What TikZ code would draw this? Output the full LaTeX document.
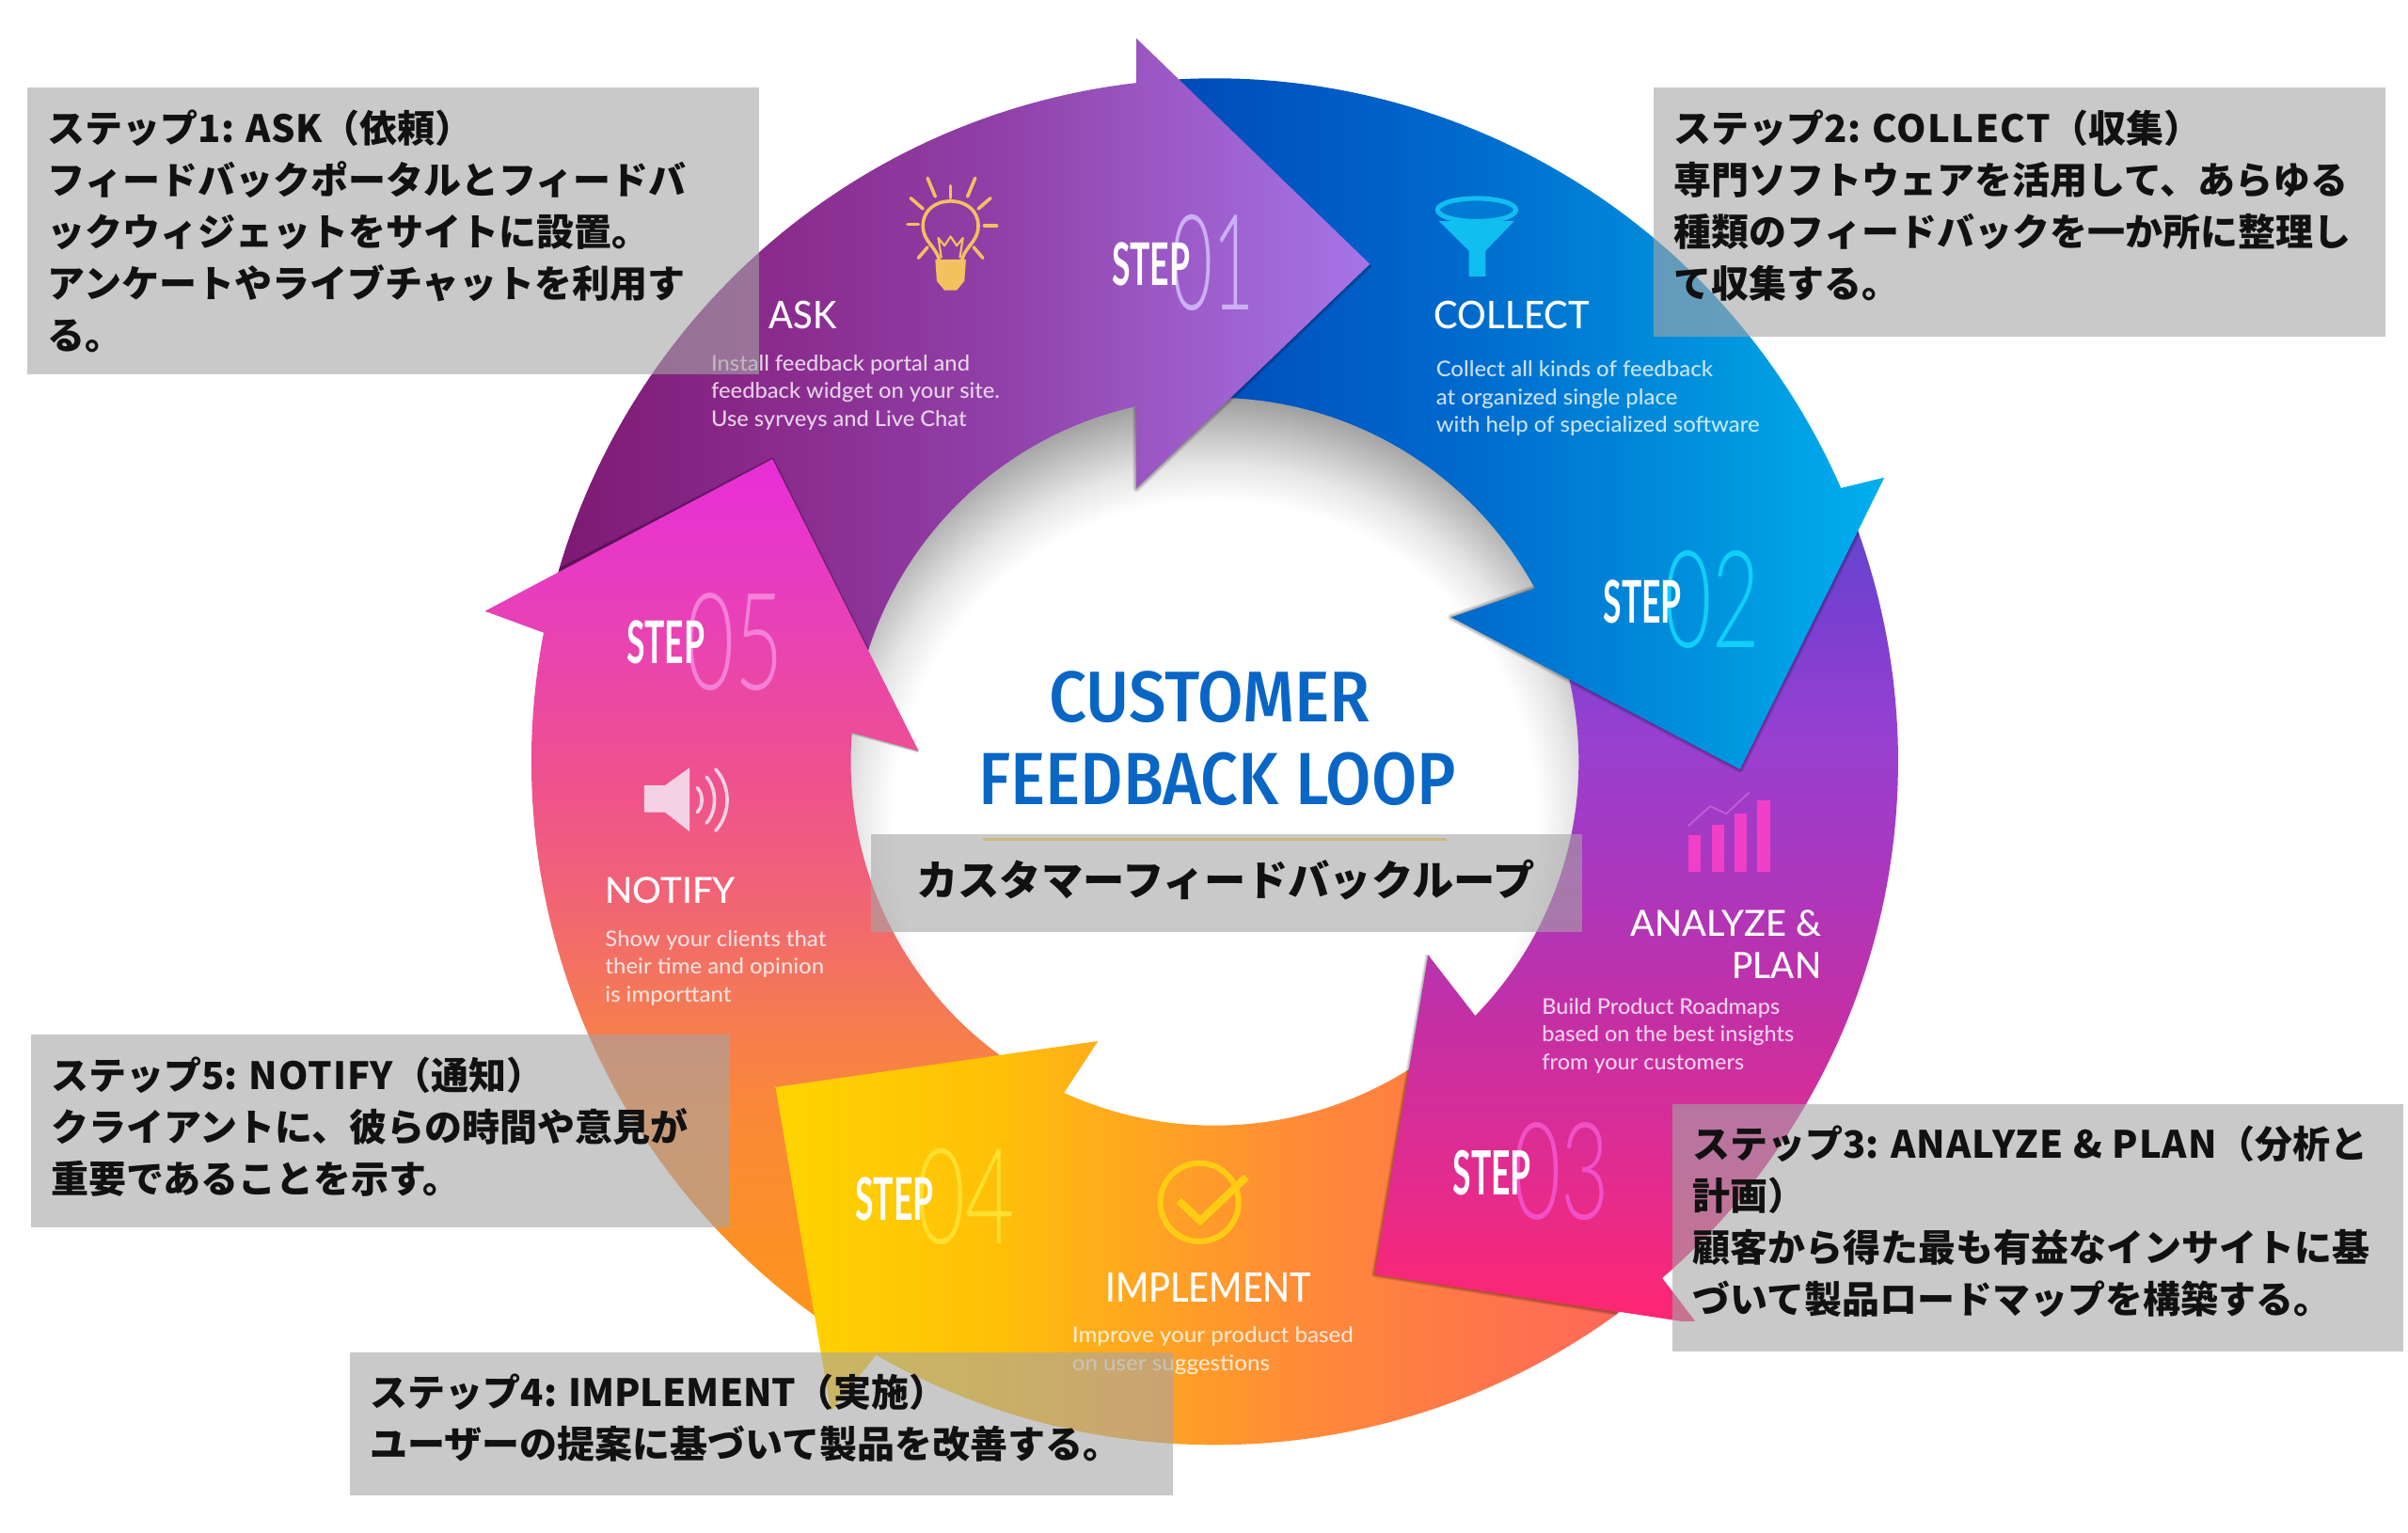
\documentclass[tikz,border=0pt]{standalone}
\usepackage{fontspec}
\usepackage{graphicx}
\newfontfamily\cjk{Noto Sans CJK JP}
\newfontfamily\lato{Lato}
\newfontfamily\latomed[UprightFont=* Medium]{Lato}
\newfontfamily\thindigits[UprightFont=* Light]{Lato}
\newfontfamily\firaf[UprightFont=* Medium]{Fira Sans}
\newlength\PX
\setlength\PX{1.632653pt}
% a Latin run inside a caption, opened up by a given letter space
\newcommand\spaced[2]{{\addfontfeature{LetterSpace=#1}#2}}

\definecolor{aA}{HTML}{7C1870}\definecolor{aB}{HTML}{8A2A8C}\definecolor{aC}{HTML}{9040A8}
\definecolor{aD}{HTML}{9A55C0}\definecolor{aE}{HTML}{A676EA}
\definecolor{bA}{HTML}{0048B8}\definecolor{bB}{HTML}{0068CC}\definecolor{bC}{HTML}{0098E0}\definecolor{bD}{HTML}{00B0F0}
\definecolor{cA}{HTML}{FF2672}\definecolor{cB}{HTML}{E02C90}\definecolor{cC}{HTML}{C030A8}
\definecolor{cD}{HTML}{A838C0}\definecolor{cE}{HTML}{9840D0}\definecolor{cF}{HTML}{7A3FD0}\definecolor{cG}{HTML}{5A4ACC}
\definecolor{dA}{HTML}{FFD400}\definecolor{dB}{HTML}{FFC008}\definecolor{dC}{HTML}{FFAC1C}
\definecolor{dD}{HTML}{FF8A38}\definecolor{dE}{HTML}{FF7050}\definecolor{dF}{HTML}{FF6060}
\definecolor{eA}{HTML}{FF9A10}\definecolor{eB}{HTML}{FA8838}\definecolor{eC}{HTML}{F47858}
\definecolor{eD}{HTML}{F0607A}\definecolor{eE}{HTML}{EE5090}\definecolor{eF}{HTML}{E840B8}\definecolor{eG}{HTML}{E82CDC}
\definecolor{titleblue}{HTML}{0A66C4}
\definecolor{rulegold}{HTML}{CDB77A}
\definecolor{bulbgold}{HTML}{F4C060}
\definecolor{funnelcyan}{HTML}{10BEF0}
\definecolor{checkgold}{HTML}{FFCC14}
\definecolor{barpink}{HTML}{F040C8}
\definecolor{linepink}{HTML}{C860D8}
\definecolor{speakerpale}{HTML}{F4D2E6}
\definecolor{dOne}{HTML}{CCB0F4}
\definecolor{dTwo}{HTML}{10D0F8}
\definecolor{dThree}{HTML}{F050C8}
\definecolor{dFour}{HTML}{FFDF30}
\definecolor{dFive}{HTML}{F480D8}
\definecolor{boxgrey}{HTML}{A5A5A5}
\definecolor{boxink}{HTML}{111111}

% the fill box of a shaded path maps to the middle 25bp..75bp of a shading
\pgfdeclarehorizontalshading{ringone}{100bp}{color(0bp)=(aA); color(25bp)=(aA); color(38.65bp)=(aB); color(52.25bp)=(aC); color(60.45bp)=(aD); color(75bp)=(aE); color(100bp)=(aE)}
\pgfdeclarehorizontalshading{ringtwo}{100bp}{color(0bp)=(bA); color(25bp)=(bA); color(45.3bp)=(bB); color(64.9bp)=(bC); color(75bp)=(bD); color(100bp)=(bD)}
\pgfdeclareverticalshading{ringthree}{100bp}{color(0bp)=(cA); color(25bp)=(cA); color(34.25bp)=(cB); color(44.5bp)=(cC); color(52.75bp)=(cD); color(60bp)=(cE); color(67.5bp)=(cF); color(75bp)=(cG); color(100bp)=(cG)}
\pgfdeclarehorizontalshading{ringfour}{100bp}{color(0bp)=(dA); color(25bp)=(dA); color(37.3bp)=(dB); color(43bp)=(dC); color(53.7bp)=(dD); color(66bp)=(dE); color(75bp)=(dF); color(100bp)=(dF)}
\pgfdeclareverticalshading{ringfive}{100bp}{color(0bp)=(eA); color(25bp)=(eA); color(40.85bp)=(eB); color(46.45bp)=(eC); color(52.8bp)=(eD); color(58.35bp)=(eE); color(66.25bp)=(eF); color(75bp)=(eG); color(100bp)=(eG)}
\pgfdeclareradialshading{holeglow}{\pgfpoint{0bp}{0bp}}{color(0bp)=(white); color(17.5bp)=(white); color(19.5bp)=(black!10); color(23.1bp)=(black!38); color(25bp)=(black!42); color(50bp)=(black!42)}

% ring arcs; screen angles run clockwise because y points down
\newcommand\outerarc[2]{-- plot[domain=#1:#2,samples=70] ({791+445*cos(\x)},{496+445*sin(\x)})}
\newcommand\innerarc[2]{-- plot[domain=#1:#2,samples=50] ({791+237*cos(\x)},{496+237*sin(\x)})}
% one arrow: a shaded rectangle seen through the arrow outline
\newcommand\gradarrow[3]{\begin{scope}\clip #3 -- cycle;\shade[shading=#1] #2;\end{scope}}
% a soft edge built from stacked translucent strokes
\newcommand\softedge[2]{\foreach \k in {1,...,10}{\draw[line width={\k*#1*0.16327pt},black,opacity=.035,line join=round] #2;}}
% a label fitted to a given width and cap height, set on its baseline
\newcommand\fitlabel[7]{\node[anchor=base west,inner sep=0pt,outer sep=0pt,#6] (#1) at (#2,#3) {\resizebox{#4\PX}{#5\PX}{#7}};}

\tikzset{
  x=1.632653pt, y=-1.632653pt,
  greybox/.style={fill=boxgrey,opacity=.6},
  boxtext/.style={anchor=north west,inner sep=0pt,align=left,text=boxink,font=\cjk\bfseries\fontsize{40}{55}\selectfont},
  para/.style={anchor=north west,inner sep=0pt,align=left,text=white,text opacity=.78,transform shape,font=\latomed\fontsize{23}{29.4}\selectfont},
  ray/.style={draw=bulbgold,line width=3.6pt,line cap=round},
}

\begin{document}
\begin{tikzpicture}
\useasboundingbox (0,0) rectangle (1568,998.37);
\fill[white] (0,0) rectangle (1568,998.37);

% the centre opening with its soft shadow from the ring above it
\begin{scope}
  \clip (791,496) circle (238);
  \shade[shading=holeglow] (791,536) circle (300);
\end{scope}

\begin{scope}
  \clip (791,496) circle (445);
  \softedge{3}{(555,477) -- (598,489)}
\end{scope}

% arrow five: notify
\gradarrow{ringfive}{(300,290) rectangle (700,920)}{(555,873) \outerarc{122}{190.9} -- (316,398) -- (503,299) -- (598,489) -- (555,477) \innerarc{184.6}{120}}

% arrow four: implement
\gradarrow{ringfour}{(500,670) rectangle (1110,950)}{(1059,851) \outerarc{53}{119.7} -- (541,919) -- (505,708) -- (715,678) -- (692,713) \innerarc{114.5}{50}}

\begin{scope}
  \clip (791,496) circle (445);
  \softedge{4}{(930,622) -- (895,830) -- (1053,855)}
\end{scope}

% arrow three: analyze and plan
\gradarrow{ringthree}{(880,320) rectangle (1240,860)}{(1201,322) \outerarc{337}{409.1} -- (1105,862) -- (895,830) -- (930,622) -- (961,662) \innerarc{44.3}{-20}}

\begin{scope}
  \clip (791,496) circle (445);
  \softedge{5}{(1000,383) -- (945,402) -- (1133,501) -- (1227,311)}
\end{scope}

% arrow two: collect
\gradarrow{ringtwo}{(750,40) rectangle (1230,510)}{(768,52) \outerarc{267}{336.4} -- (1227,311) -- (1133,501) -- (945,402) -- (1000,383) \innerarc{331.6}{262}}

\begin{scope}
  \clip (791,496) circle (445);
  \softedge{5}{(740,265) -- (740,318) -- (892,172)}
\end{scope}

% arrow one: ask
\gradarrow{ringone}{(350,20) rectangle (900,460)}{(357,396) \outerarc{193}{263.4} -- (740,25) -- (892,172) -- (740,318) -- (740,265) \innerarc{257.6}{190}}

\begin{scope}
  \clip (357,396) \outerarc{193}{263.4} -- (740,25) -- (892,172) -- (740,318) -- (740,265) \innerarc{257.6}{190} -- cycle;
  \softedge{2.5}{(364,371) -- (503,299) -- (598,489)}
\end{scope}

% the head of arrow five lies over the tail of arrow one
\gradarrow{ringfive}{(300,290) rectangle (700,920)}{(354,412) -- (316,398) -- (503,299) -- (598,489) -- (555,477)}

% centre title
\fitlabel{titleA}{683}{470}{209}{33}{text=titleblue}{\firaf CUSTOMER}
\fitlabel{titleB}{637}{524}{311}{34}{text=titleblue}{\firaf FEEDBACK LOOP}

% step captions
\fitlabel{numOne}{763}{202}{54}{62}{text=dOne}{\thindigits 01}
\fitlabel{stepOne}{724}{186}{51}{28}{text=white}{\lato\bfseries STEP}
\fitlabel{numTwo}{1084}{422}{62}{63}{text=dTwo}{\thindigits 02}
\fitlabel{stepTwo}{1044}{406}{51}{28}{text=white}{\lato\bfseries STEP}
\fitlabel{numThree}{985}{794}{63}{63}{text=dThree}{\thindigits 03}
\fitlabel{stepThree}{946}{778}{51}{29}{text=white}{\lato\bfseries STEP}
\fitlabel{numFour}{597}{810}{64}{62}{text=dFour}{\thindigits 04}
\fitlabel{stepFour}{557}{795}{51}{28}{text=white}{\lato\bfseries STEP}
\fitlabel{numFive}{447}{449}{63}{63}{text=dFive}{\thindigits 05}
\fitlabel{stepFive}{408}{432}{51}{28}{text=white}{\lato\bfseries STEP}

% ring headings
\fitlabel{headAsk}{501}{214}{44}{18}{text=white}{\latomed ASK}
\fitlabel{headCollect}{934}{214}{101}{18}{text=white}{\latomed COLLECT}
\fitlabel{headAnalyze}{1062}{610}{124}{17}{text=white}{\latomed ANALYZE \&}
\fitlabel{headPlan}{1128}{637}{58}{17}{text=white}{\latomed PLAN}
\fitlabel{headNotify}{394}{588}{85}{17}{text=white}{\latomed NOTIFY}
\fitlabel{headImplement}{720}{848}{134}{19}{text=white}{\latomed IMPLEMENT}

% ring paragraphs
\node[para,xscale=1.03] (paraAsk) at (463,231) {Install feedback portal and\\feedback widget on your site.\\Use syrveys and Live Chat};
\node[para,xscale=1.04] (paraCollect) at (935,235) {Collect all kinds of feedback\\at organized single place\\with help of specialized software};
\node[para,xscale=1.02] (paraAnalyze) at (1004,650) {Build Product Roadmaps\\based on the best insights\\from your customers};
\node[para,xscale=1.04] (paraNotify) at (394,606) {Show your clients that\\their time and opinion\\is importtant};
\node[para,xscale=1.05] (paraImplement) at (698,864) {Improve your product based\\on user suggestions};

% bulb icon
\draw[bulbgold,line width=3.6pt,line join=round] (612,171) .. controls (610,160) and (601,158) .. (601,147) .. controls (601,137) and (609,131) .. (619,131) .. controls (629,131) and (637,137) .. (637,147) .. controls (637,158) and (628,160) .. (626,171);
\fill[bulbgold] (609,169) -- (629,169) -- (628,183) -- (623,189) -- (615,189) -- (610,183) -- cycle;
\draw[bulbgold,line width=2.2pt,line join=round] (613,168) -- (611,155) -- (615,160) -- (619,154) -- (623,160) -- (627,155) -- (625,168);
\draw[ray] (591,146) -- (598,146);
\draw[ray] (593,129) -- (601,136);
\draw[ray] (604,116) -- (609,128);
\draw[ray] (619,121) -- (619,129);
\draw[ray] (635,116) -- (630,128);
\draw[ray] (645,129) -- (637,136);
\draw[ray] (649,147) -- (641,147);
\draw[ray] (640,168) -- (634,161);
\draw[ray] (598,168) -- (604,161);

% funnel icon
\fill[funnelcyan] (937,144) -- (986,144) -- (967.3,163.3) -- (967.3,180) -- (956.5,180) -- (956.5,163.3) -- cycle;
\draw[funnelcyan,line width=5pt,fill=bB!60!bC] (961.6,136.7) ellipse (25.5 and 7.5);

% chart icon
\draw[linepink,line width=1.6pt,line join=round] (1099.4,537.9) -- (1113.6,525) -- (1124,530) -- (1139,516);
\fill[barpink] (1099.4,544.1) rectangle (1107.6,568);
\fill[barpink] (1114.8,537.3) rectangle (1122.9,568);
\fill[barpink] (1129.4,529.8) rectangle (1137.6,568);
\fill[barpink] (1144.3,521) rectangle (1152.5,568);

% check icon
\draw[checkgold,line width=6pt] (781,783) circle (25.5);
\draw[checkgold,line width=8pt,line join=miter] (767.6,782) -- (781.5,795) -- (811.5,766.6);

% speaker icon
\fill[speakerpale] (419.5,511.5) -- (433,511.5) -- (449,500) -- (449,541.5) -- (433,529) -- (419.5,529) -- cycle;
\draw[speakerpale,line width=3.6pt,line cap=round] (454,513) .. controls (458,517) and (458,525) .. (454,529);
\draw[speakerpale,line width=3.6pt,line cap=round] (460,506) .. controls (467,514) and (467,528) .. (460,536);
\draw[speakerpale,line width=3.6pt,line cap=round] (466,501) .. controls (476,512) and (476,530) .. (466,541);

% translucent caption panels
\fill[greybox] (18,57) rectangle (494,244);
\fill[greybox] (1077,57) rectangle (1553,219);
\fill[greybox] (1089,719) rectangle (1565,880);
\fill[greybox] (228,881) rectangle (764,974);
\fill[greybox] (20,674) rectangle (475,799);
\fill[greybox] (567,543) rectangle (1030,607);
\draw[rulegold,line width=3.5pt] (640,546.5) -- (942,546.5);

\node[boxtext] (capOne) at (31,71.5) {ステップ1: \spaced{1}{ASK}（依頼）\\フィードバックポータルとフィードバ\\ックウィジェットをサイトに設置。\\アンケートやライブチャットを利用す\\る。};
\node[boxtext] (capTwo) at (1090,71.5) {ステップ2: \spaced{3.5}{COLLECT}（収集）\\専門ソフトウェアを活用して、あらゆる\\種類のフィードバックを一か所に整理し\\て収集する。};
\node[boxtext] (capThree) at (1102,733) {ステップ3: \spaced{3}{ANALYZE \& PLAN}（分析と\\計画）\\顧客から得た最も有益なインサイトに基\\づいて製品ロードマップを構築する。};
\node[boxtext] (capFour) at (241,894.5) {ステップ4: IMPLEMENT（実施）\\ユーザーの提案に基づいて製品を改善する。};
\node[boxtext] (capFive) at (33,688.5) {ステップ5: \spaced{2.7}{NOTIFY}（通知）\\クライアントに、彼らの時間や意見が\\重要であることを示す。};
\node[anchor=center,inner sep=0pt,text=boxink,font=\cjk\bfseries\fontsize{44.3}{50}\selectfont] (capCentre) at (798,573) {カスタマーフィードバックループ};
\end{tikzpicture}
\end{document}
